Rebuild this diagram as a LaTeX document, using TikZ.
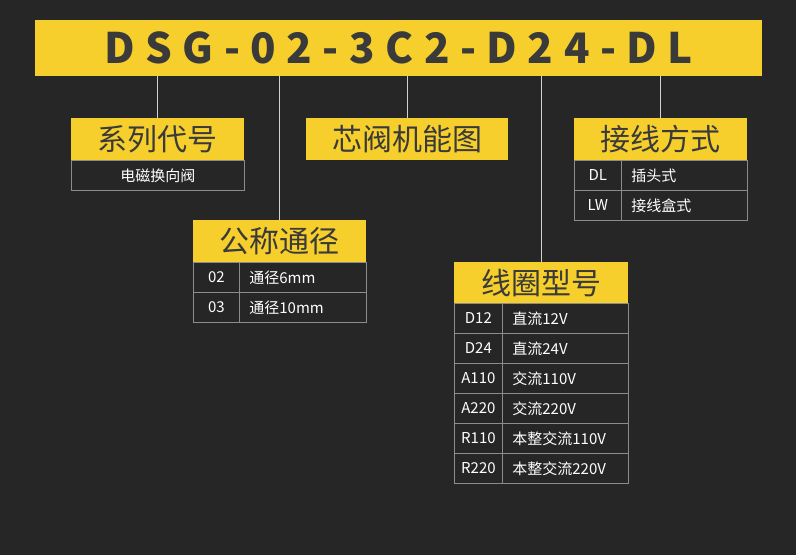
\documentclass[tikz,border=0pt]{standalone}
\usepackage{fontspec}
\setmainfont{Noto Sans CJK SC}
\newfontfamily\codefont[LetterSpace=25]{Noto Sans CJK SC}
\definecolor{bg}{HTML}{262626}
\definecolor{gold}{HTML}{F6CF2C}
\definecolor{ink}{HTML}{3A3A3A}
\definecolor{rule}{HTML}{8C8C8C}
\definecolor{wire}{HTML}{D0D0D0}

\begin{document}
\begin{tikzpicture}[x=1pt,y=-1pt,
  goldbar/.style={fill=gold,text=ink,inner sep=0pt,anchor=north west},
  codebar/.style={goldbar,minimum width=727pt,minimum height=56pt,font=\codefont\bfseries\fontsize{42}{42}\selectfont},
  head/.style={goldbar,minimum height=42pt,font=\fontsize{30}{30}\selectfont},
  cell/.style={draw=rule,line width=0.8pt,fill=bg,text=white,inner sep=0pt,anchor=north west,minimum height=30pt,font=\fontsize{15}{15}\selectfont},
  val/.style={cell,inner xsep=10pt,text width=#1,align=left},
  link/.style={draw=wire,line width=1.2pt}]
\fill[bg] (0,0) rectangle (796,555);
\useasboundingbox (0,0) rectangle (796,555);

\node[codebar] (code) at (35,20) {DSG-02-3C2-D24-DL};

\node[head,minimum width=173pt] (series) at (71,118) {系列代号};
\node[cell,minimum width=173pt] (seriesA) at (71,160) {电磁换向阀};

\node[head,minimum width=202pt] (spool) at (306,118) {芯阀机能图};

\node[head,minimum width=173pt] (wiring) at (574,118) {接线方式};
\node[cell,minimum width=47pt] (wiringA) at (574,160) {DL};
\node[val=106pt] (wiringAv) at (621,160) {插头式};
\node[cell,minimum width=47pt] (wiringB) at (574,190) {LW};
\node[val=106pt] (wiringBv) at (621,190) {接线盒式};

\node[head,minimum width=173pt] (size) at (193,220) {公称通径};
\node[cell,minimum width=46pt] (sizeA) at (193,262) {02};
\node[val=107pt] (sizeAv) at (239,262) {通径6mm};
\node[cell,minimum width=46pt] (sizeB) at (193,292) {03};
\node[val=107pt] (sizeBv) at (239,292) {通径10mm};

\node[head,minimum width=174pt,minimum height=41pt] (coil) at (454,262) {线圈型号};
\node[cell,minimum width=48pt] (coilA) at (454,303) {D12};
\node[val=106pt] (coilAv) at (502,303) {直流12V};
\node[cell,minimum width=48pt] (coilB) at (454,333) {D24};
\node[val=106pt] (coilBv) at (502,333) {直流24V};
\node[cell,minimum width=48pt] (coilC) at (454,363) {A110};
\node[val=106pt] (coilCv) at (502,363) {交流110V};
\node[cell,minimum width=48pt] (coilD) at (454,393) {A220};
\node[val=106pt] (coilDv) at (502,393) {交流220V};
\node[cell,minimum width=48pt] (coilE) at (454,423) {R110};
\node[val=106pt] (coilEv) at (502,423) {本整交流110V};
\node[cell,minimum width=48pt] (coilF) at (454,453) {R220};
\node[val=106pt] (coilFv) at (502,453) {本整交流220V};

\path
(code.south -| series.north) edge[link] (series.north)
(code.south -| size.north) edge[link] (size.north)
(code.south -| spool.north) edge[link] (spool.north)
(code.south -| coil.north) edge[link] (coil.north)
(code.south -| wiring.north) edge[link] (wiring.north);
\end{tikzpicture}
\end{document}
